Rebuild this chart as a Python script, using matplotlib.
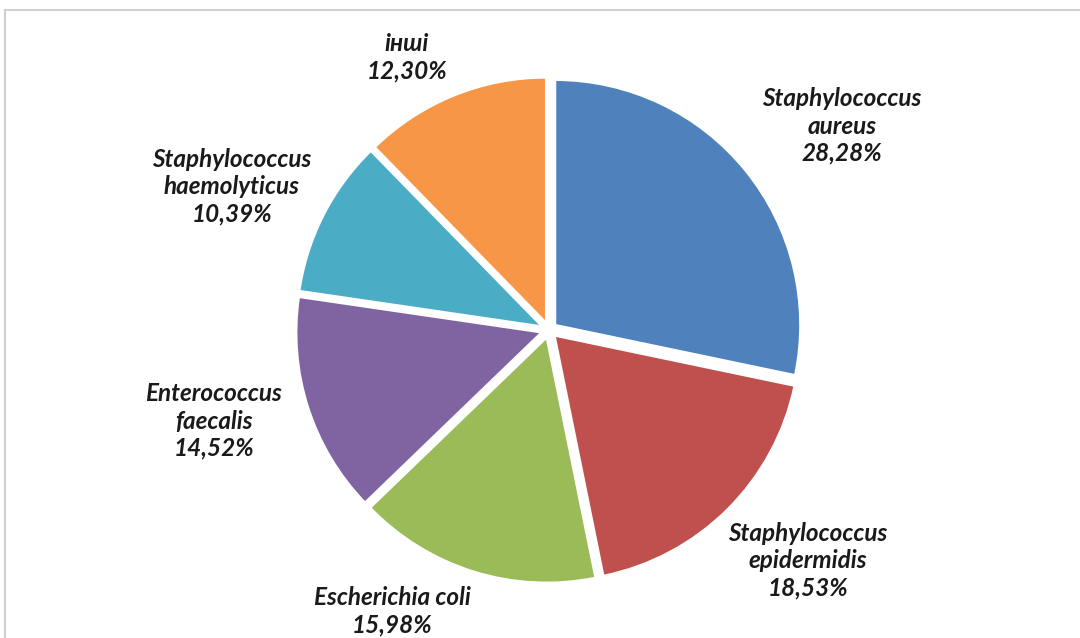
import matplotlib.pyplot as plt
from matplotlib.lines import Line2D

# species share of isolates, clockwise from 12 o'clock
species = ["Staphylococcus\naureus", "Staphylococcus\nepidermidis", "Escherichia coli",
           "Enterococcus\nfaecalis", "Staphylococcus\nhaemolyticus", "інші"]
shares = [28.28, 18.53, 15.98, 14.52, 10.39, 12.30]
colors = ["#4F81BD", "#C0504D", "#9BBB59", "#8064A2", "#4BACC6", "#F79646"]

# label anchor points (pixels from top-left)
label_xy = [(842, 126), (808, 561), (392, 611), (214, 421), (232, 187), (407, 57)]

W, H = 1080, 638
fig = plt.figure(figsize=(W / 100, H / 100), dpi=100)
ax = fig.add_axes([0, 0, 1, 1])

wedges, _ = ax.pie(shares, colors=colors, startangle=90, counterclock=False,
                   center=(549, H - 330), radius=245, explode=[8] * len(shares),
                   wedgeprops=dict(edgecolor="white", linewidth=1.5))
# pie() resets the limits, so set pixel-sized ones afterwards
ax.set_xlim(0, W)
ax.set_ylim(0, H)
ax.set_aspect("equal")
ax.axis("off")

for name, val, (x, y) in zip(species, shares, label_xy):
    txt = f"{name}\n{val:.2f}%".replace(".", ",")
    ax.text(x, H - y, txt, ha="center", va="center", fontsize=17.5,
            family=["Lato", "DejaVu Sans"], fontweight="bold", fontstyle="italic",
            color="#1a1a1a", linespacing=1.22)

# chart frame
fig.add_artist(Line2D([5 / W, 1], [1 - 10 / H, 1 - 10 / H], transform=fig.transFigure,
                      color="#d0d0d0", lw=1.5))
fig.add_artist(Line2D([5 / W, 5 / W], [0, 1 - 10 / H], transform=fig.transFigure,
                      color="#d0d0d0", lw=1.5))

fig.savefig("out.png", dpi=100)
